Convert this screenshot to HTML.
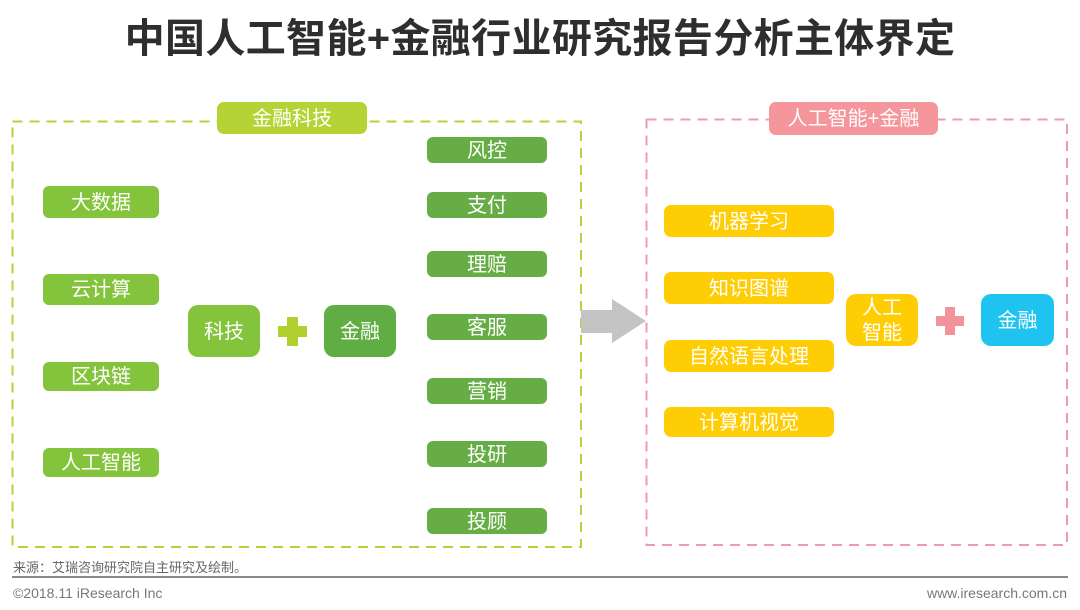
<!DOCTYPE html>
<html lang="zh">
<head>
<meta charset="utf-8">
<title>中国人工智能+金融行业研究报告分析主体界定</title>
<style>
html,body{margin:0;padding:0;background:#fff}
body{width:1080px;height:610px;position:relative;overflow:hidden;font-family:"Liberation Sans","Noto Sans CJK SC",sans-serif}
svg{position:absolute;left:0;top:0}
.b{position:absolute;display:flex;align-items:center;justify-content:center;color:#fff;font-size:20px;border-radius:6px;white-space:nowrap;text-align:center;line-height:25px;padding-top:2px;box-sizing:border-box}
.g1{background:#84c43c;left:43px;width:116px}
.g2{background:#66ad46;left:427px;width:120px}
.y{background:#ffcd03;left:664px;width:170px;border-radius:7px}
.big{border-radius:10px;top:305px;height:52px;width:72px}
</style>
</head>
<body>
<svg width="1080" height="610" viewBox="0 0 1080 610">
<rect x="12.5" y="121.5" width="568.5" height="425.5" fill="none" stroke="#b5d334" stroke-width="2" stroke-dasharray="10 7"/>
<rect x="646.5" y="119.5" width="420.5" height="425.5" fill="none" stroke="#ec9cb0" stroke-width="2" stroke-dasharray="10 7"/>
<polygon points="581,310 612,310 612,299 646,321 612,343 612,333 581,333" fill="#c4c4c4"/>
<path d="M287 317h11v9h9v11h-9v9h-11v-9h-9v-11h9z" fill="#afd02f"/>
<path d="M945 307h10v9h9v10h-9v9h-10v-9h-9v-10h9z" fill="#f2939c"/>
<rect x="12" y="576" width="1056" height="2" fill="#8a8a8a"/>
</svg>

<div style="position:absolute;left:0;width:1080px;top:13px;text-align:center;font-size:40px;font-weight:bold;color:#2e2e2e;line-height:52px;white-space:nowrap;letter-spacing:0.35px">中国人工智能+金融行业研究报告分析主体界定</div>

<div class="b" style="left:217px;top:102px;width:150px;height:32px;background:#b5d334;border-radius:7px">金融科技</div>
<div class="b" style="left:769px;top:102px;width:169px;height:33px;background:#f4969b;border-radius:7px">人工智能+金融</div>

<div class="b g1" style="top:186px;height:32px">大数据</div>
<div class="b g1" style="top:274px;height:31px">云计算</div>
<div class="b g1" style="top:362px;height:29px">区块链</div>
<div class="b g1" style="top:448px;height:29px">人工智能</div>

<div class="b big" style="left:188px;background:#84c43c">科技</div>
<div class="b big" style="left:324px;background:#5fad43">金融</div>

<div class="b g2" style="top:137px;height:26px">风控</div>
<div class="b g2" style="top:192px;height:26px">支付</div>
<div class="b g2" style="top:251px;height:26px">理赔</div>
<div class="b g2" style="top:314px;height:26px">客服</div>
<div class="b g2" style="top:378px;height:26px">营销</div>
<div class="b g2" style="top:441px;height:26px">投研</div>
<div class="b g2" style="top:508px;height:26px">投顾</div>

<div class="b y" style="top:205px;height:32px">机器学习</div>
<div class="b y" style="top:272px;height:32px">知识图谱</div>
<div class="b y" style="top:340px;height:32px">自然语言处理</div>
<div class="b y" style="top:407px;height:30px">计算机视觉</div>

<div class="b big" style="left:846px;top:294px;background:#ffcd03">人工<br>智能</div>
<div class="b big" style="left:981px;top:294px;width:73px;background:#1fc3ef">金融</div>

<div style="position:absolute;left:13px;top:559px;font-size:13px;line-height:18px;color:#666;white-space:nowrap">来源：艾瑞咨询研究院自主研究及绘制。</div>
<div style="position:absolute;left:13px;top:585px;font-size:14px;line-height:16px;color:#777;white-space:nowrap">©2018.11 iResearch Inc</div>
<div style="position:absolute;right:13px;top:585px;font-size:14px;line-height:16px;color:#777;white-space:nowrap">www.iresearch.com.cn</div>
</body>
</html>
